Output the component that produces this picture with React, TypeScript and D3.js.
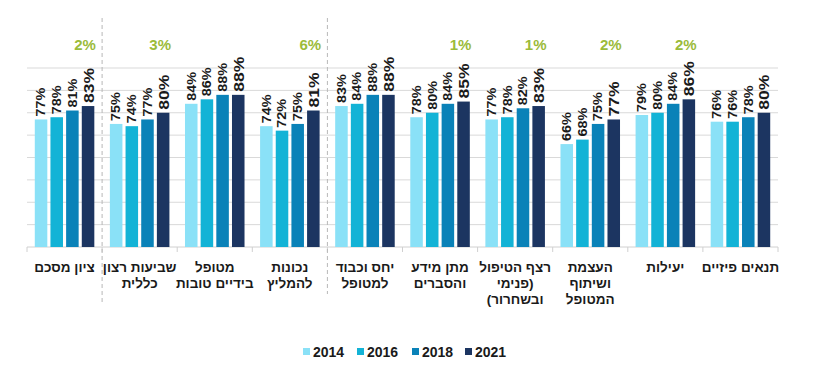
import React from "react";
import * as d3 from "d3";

const categories: string[][] = [
  ["ציון מסכם"],
  ["שביעות רצון", "כללית"],
  ["מטופל", "בידיים טובות"],
  ["נכונות", "להמליץ"],
  ["יחס וכבוד", "למטופל"],
  ["מתן מידע", "והסברים"],
  ["רצף הטיפול", "(פנימי", "ובשחרור)"],
  ["העצמת", "ושיתוף", "המטופל"],
  ["יעילות"],
  ["תנאים פיזיים"],
];
const years = ["2014", "2016", "2018", "2021"];
const v2014 = [77, 75, 84, 74, 83, 78, 77, 66, 79, 76];
const v2016 = [78, 74, 86, 72, 84, 80, 78, 68, 80, 76];
const v2018 = [81, 77, 88, 75, 88, 84, 82, 75, 84, 78];
const v2021 = [83, 80, 88, 81, 88, 85, 83, 77, 86, 80];
const diffs: (number | null)[] = [2, 3, null, 6, null, 1, 1, 2, 2, null];
const yTicks = [20, 30, 40, 50, 60, 70, 80, 90, 100];
const separatorsAfter = [0, 3];
const colors = ["#8ae1f7", "#13b3d6", "#0a82b8", "#1c3561"];

export default function App() {
  const W = 814, H = 371;
  const series = [v2014, v2016, v2018, v2021];
  const x0 = d3.scaleBand<number>().domain(d3.range(categories.length)).range([27, 778]).paddingInner(0).paddingOuter(0);
  const x1 = d3.scaleBand<number>().domain(d3.range(years.length)).range([7, x0.bandwidth() - 7]).paddingInner(0.2).paddingOuter(0.05);
  const y = d3.scaleLinear().domain([20, 100]).range([247, 68]);
  const font = "'Liberation Sans', Arial, sans-serif";
  const legendX = [303, 357, 412, 465];
  return (
    <svg width={W} height={H} style={{ position: "absolute", left: 0, top: 0 }} fontFamily={font}>
      <rect width={W} height={H} fill="#fff" />
      {yTicks.slice(1).map((t) => (
        <line key={t} x1={27} x2={778} y1={y(t)} y2={y(t)} stroke="#d9d9d9" strokeWidth={1} />
      ))}
      <line x1={27} x2={778} y1={y(20)} y2={y(20)} stroke="#d0d0d0" strokeWidth={1} />
      {d3.range(categories.length + 1).map((i) => {
        const xx = 27 + i * x0.bandwidth();
        return <line key={i} x1={xx} x2={xx} y1={y(20)} y2={y(20) + 5} stroke="#d0d0d0" />;
      })}
      {separatorsAfter.map((i, k) => {
        const xx = (x0(i) as number) + x0.bandwidth();
        return (
          <line key={i} x1={xx} x2={xx} y1={18} y2={k === 0 ? 303 : 294} stroke="#b8b8b8" strokeDasharray="4,3" strokeWidth={1} />
        );
      })}
      {categories.map((cat, ci) => {
        const gx = x0(ci) as number;
        return (
          <g key={ci}>
            {series.map((s, si) => {
              const bx = gx + (x1(si) as number);
              const bw = x1.bandwidth();
              const by = y(s[ci]);
              const last = si === 3;
              return (
                <g key={si}>
                  <rect x={bx} y={by} width={bw} height={y(20) - by} fill={colors[si]} />
                  <text
                    transform={`translate(${bx + bw / 2 + (last ? 5.5 : 4.3)},${by - 3}) rotate(-90) scale(${last ? 1.17 : 1.2},1)`}
                    fontSize={last ? 15 : 12}
                    fontWeight="bold"
                    fill="#1a1a1a"
                  >
                    {s[ci]}%
                  </text>
                </g>
              );
            })}
            {diffs[ci] !== null && (
              <text
                x={gx + (x1(3) as number) + x1.bandwidth() / 2 - 3}
                y={50}
                textAnchor="middle"
                fontSize={15}
                fontWeight="bold"
                fill="#9bbb3b"
              >
                {diffs[ci]}%
              </text>
            )}
            {cat.map((line, li) => (
              <text
                key={li}
                x={gx + x0.bandwidth() / 2}
                y={272 + li * 16}
                textAnchor="middle"
                direction="rtl"
                fontSize={13.5}
                fontWeight="bold"
                fill="#1a1a1a"
              >
                {line}
              </text>
            ))}
          </g>
        );
      })}
      {years.map((yr, i) => (
        <g key={yr}>
          <rect x={legendX[i]} y={348} width={7} height={7} fill={colors[i]} />
          <text x={legendX[i] + 10} y={357} fontSize={14} fontWeight="bold" fill="#1a1a1a">
            {yr}
          </text>
        </g>
      ))}
    </svg>
  );
}
